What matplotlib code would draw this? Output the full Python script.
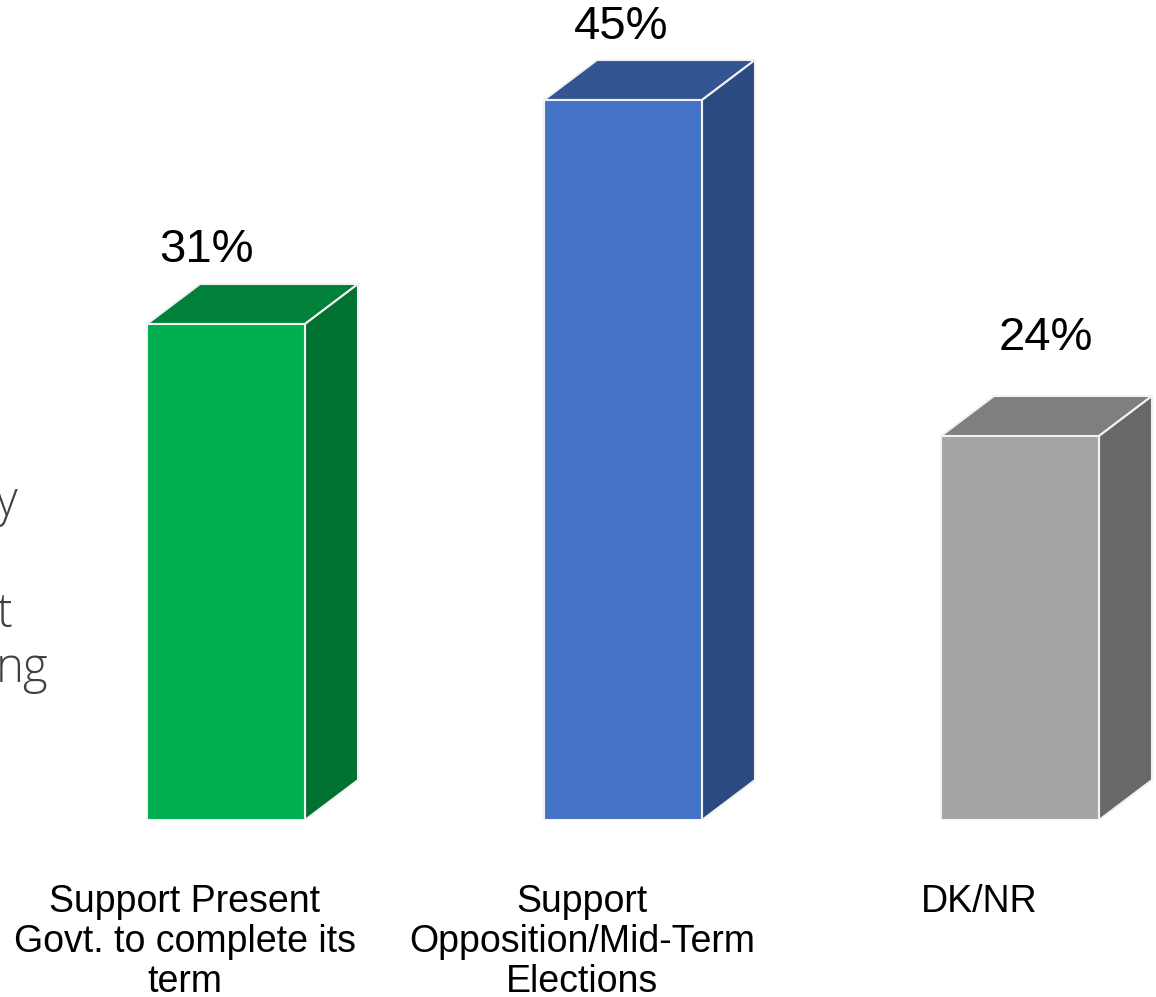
import numpy as np
import matplotlib.pyplot as plt
from matplotlib.patches import Polygon

# Data
categories = ['Support Present\nGovt. to complete its\nterm',
              'Support\nOpposition/Mid-Term\nElections',
              'DK/NR']
values = [31, 45, 24]
value_labels = ['31%', '45%', '24%']

# Face colours (front, top, side)
front_cols = ['#00AF4F', '#4472C4', '#A5A5A5']
top_cols = ['#00823A', '#345594', '#7F7F7F']
side_cols = ['#00712F', '#2B4A7F', '#686868']

# Label offsets in pixels relative to top-centre of front face
lab_off = [(-20, 74), (-2, 73), (26, 98)]

plt.rcParams['font.family'] = ['Liberation Sans', 'DejaVu Sans']

fig = plt.figure(figsize=(11.56, 9.97), dpi=100)
ax = fig.add_axes([0, 177 / 997, 1, 820 / 997])
ax.set_xlim(-226 / 397, (1156 - 226) / 397)
ax.set_ylim(0, 820 / 16)
ax.axis('off')

x = np.arange(len(values))
width = 158 / 397
dx = 53 / 397      # depth in x (data units)
dy = 40 / 16       # depth in y (data units)
edge = '#F2F2F2'

bars = ax.bar(x, values, width=width, color=front_cols, edgecolor=edge,
              linewidth=1.5, zorder=3)

for b, tc, sc in zip(bars, top_cols, side_cols):
    x0 = b.get_x()
    x1 = x0 + b.get_width()
    h = b.get_height()
    top = Polygon([(x0, h), (x0 + dx, h + dy), (x1 + dx, h + dy), (x1, h)],
                  closed=True, facecolor=tc, edgecolor=edge, lw=1.5, zorder=2)
    side = Polygon([(x1, 0), (x1 + dx, dy), (x1 + dx, h + dy), (x1, h)],
                   closed=True, facecolor=sc, edgecolor=edge, lw=1.5, zorder=2)
    ax.add_patch(top)
    ax.add_patch(side)

# Value labels
for xi, v, lab, off in zip(x, values, value_labels, lab_off):
    ax.annotate(lab, (xi, v), xytext=off, textcoords='offset pixels',
                ha='center', va='center', fontsize=34, color='#000000')

# Category labels
for xi, cat in zip(x, categories):
    ax.annotate(cat, (xi, 0), xytext=(-41, -64), textcoords='offset pixels',
                ha='center', va='top', fontsize=27, linespacing=1.14,
                color='#000000')

# Partly hidden slide text on the left edge
side_txt = ['y', 't', 'ng']
side_base = [515, 627, 682]
for t, yb in zip(side_txt, side_base):
    fig.text(-4 / 1156, 1 - yb / 997, t, ha='left', va='baseline',
             fontsize=34, family=['Open Sans', 'DejaVu Sans'],
             fontweight='light', color='#404040')

fig.savefig('out.png', dpi=100, facecolor='white')
